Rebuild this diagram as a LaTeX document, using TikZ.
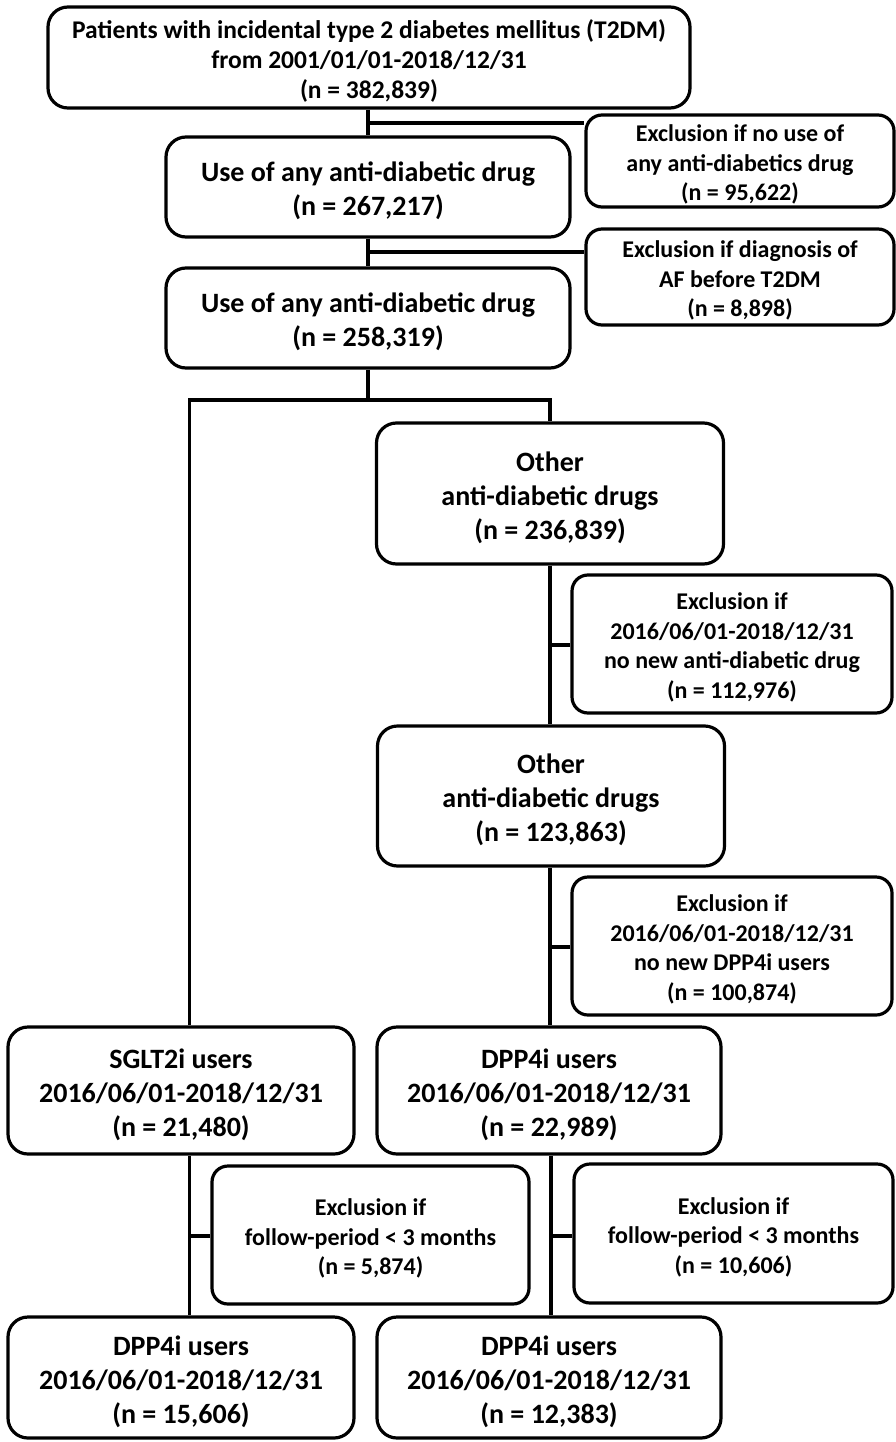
\documentclass[tikz,border=0pt]{standalone}
\usepackage{fontspec}
\setmainfont{Carlito}
\newcommand\toppad{\rule{0pt}{1em}}
\begin{document}
\begin{tikzpicture}[x=1pt,y=-1pt,
  box/.style={draw, line width=3.2pt, rounded corners=20pt, align=center, inner sep=0pt,
    font=\bfseries\fontsize{28}{34}\selectfont},
  topbox/.style={box, font=\bfseries\fontsize{25.5}{30}\selectfont},
  exbox/.style={box, rounded corners=16pt, font=\bfseries\fontsize{24}{29.5}\selectfont},
  conn/.style={line width=3.2pt}]
\useasboundingbox (0,0) rectangle (895,1442);

% boxes
\node[topbox, minimum width=642pt, minimum height=101pt] (top) at (369,57.5)
  {\toppad Patients with incidental type 2 diabetes mellitus (T2DM)\\from 2001/01/01-2018/12/31\\(n = 382,839)};
\node[exbox, minimum width=308pt, minimum height=92pt] (ex1) at (740,161)
  {\toppad Exclusion if no use of\\any anti-diabetics drug\\(n = 95,622)};
\node[box, minimum width=404pt, minimum height=100pt] (b2) at (368,187)
  {\toppad Use of any anti-diabetic drug\\(n = 267,217)};
\node[exbox, minimum width=308pt, minimum height=96pt] (ex2) at (740,277)
  {\toppad Exclusion if diagnosis of\\AF before T2DM\\(n = 8,898)};
\node[box, minimum width=404pt, minimum height=100pt] (b3) at (368,318)
  {\toppad Use of any anti-diabetic drug\\(n = 258,319)};
\node[box, minimum width=347pt, minimum height=141pt] (o1) at (550,493.5)
  {\toppad Other\\anti-diabetic drugs\\(n = 236,839)};
\node[exbox, minimum width=320pt, minimum height=138pt] (ex3) at (732,644)
  {\toppad Exclusion if\\2016/06/01-2018/12/31\\no new anti-diabetic drug\\(n = 112,976)};
\node[box, minimum width=347pt, minimum height=140pt] (o2) at (551,796)
  {\toppad Other\\anti-diabetic drugs\\(n = 123,863)};
\node[exbox, minimum width=320pt, minimum height=138pt] (ex4) at (732,946)
  {\toppad Exclusion if\\2016/06/01-2018/12/31\\no new DPP4i users\\(n = 100,874)};
\node[box, minimum width=346pt, minimum height=127pt] (sg) at (181,1090.5)
  {\toppad SGLT2i users\\2016/06/01-2018/12/31\\(n = 21,480)};
\node[box, minimum width=344pt, minimum height=127pt] (dp) at (549,1090.5)
  {\toppad DPP4i users\\2016/06/01-2018/12/31\\(n = 22,989)};
\node[exbox, minimum width=317pt, minimum height=138pt] (ex5) at (370.5,1235)
  {\toppad Exclusion if\\follow-period < 3 months\\(n = 5,874)};
\node[exbox, minimum width=319pt, minimum height=139pt] (ex6) at (733.5,1233.5)
  {\toppad Exclusion if\\follow-period < 3 months\\(n = 10,606)};
\node[box, minimum width=346pt, minimum height=121pt] (fl) at (181,1377.5)
  {\toppad DPP4i users\\2016/06/01-2018/12/31\\(n = 15,606)};
\node[box, minimum width=344pt, minimum height=121pt] (fr) at (549,1377.5)
  {\toppad DPP4i users\\2016/06/01-2018/12/31\\(n = 12,383)};

% junction coordinates
\coordinate (j1) at (368,123);
\coordinate (j2) at (368,252);
\coordinate (sp) at (368,400);
\coordinate (spl) at (189.5,400);
\coordinate (spr) at (550,400);
\coordinate (j3) at (550,645);
\coordinate (j4) at (550,947);
\coordinate (j5) at (189.5,1236);
\coordinate (j6) at (551,1236);

% connectors
\draw[conn] (top.south -| j1) -- (b2.north -| j1);
\draw[conn] (j1) -- (j1 -| ex1.west);
\draw[conn] (b2.south -| j2) -- (b3.north -| j2);
\draw[conn] (j2) -- (j2 -| ex2.west);
\draw[conn] (b3.south -| sp) -- (sp);
\draw[conn] (sg.north -| spl) -- (spl) -- (spr) -- (o1.north -| spr);
\draw[conn] (o1.south -| j3) -- (o2.north -| j3);
\draw[conn] (j3) -- (j3 -| ex3.west);
\draw[conn] (o2.south -| j4) -- (dp.north -| j4);
\draw[conn] (j4) -- (j4 -| ex4.west);
\draw[conn] (sg.south -| j5) -- (fl.north -| j5);
\draw[conn] (j5) -- (j5 -| ex5.west);
\draw[conn] (dp.south -| j6) -- (fr.north -| j6);
\draw[conn] (j6) -- (j6 -| ex6.west);
\end{tikzpicture}
\end{document}
